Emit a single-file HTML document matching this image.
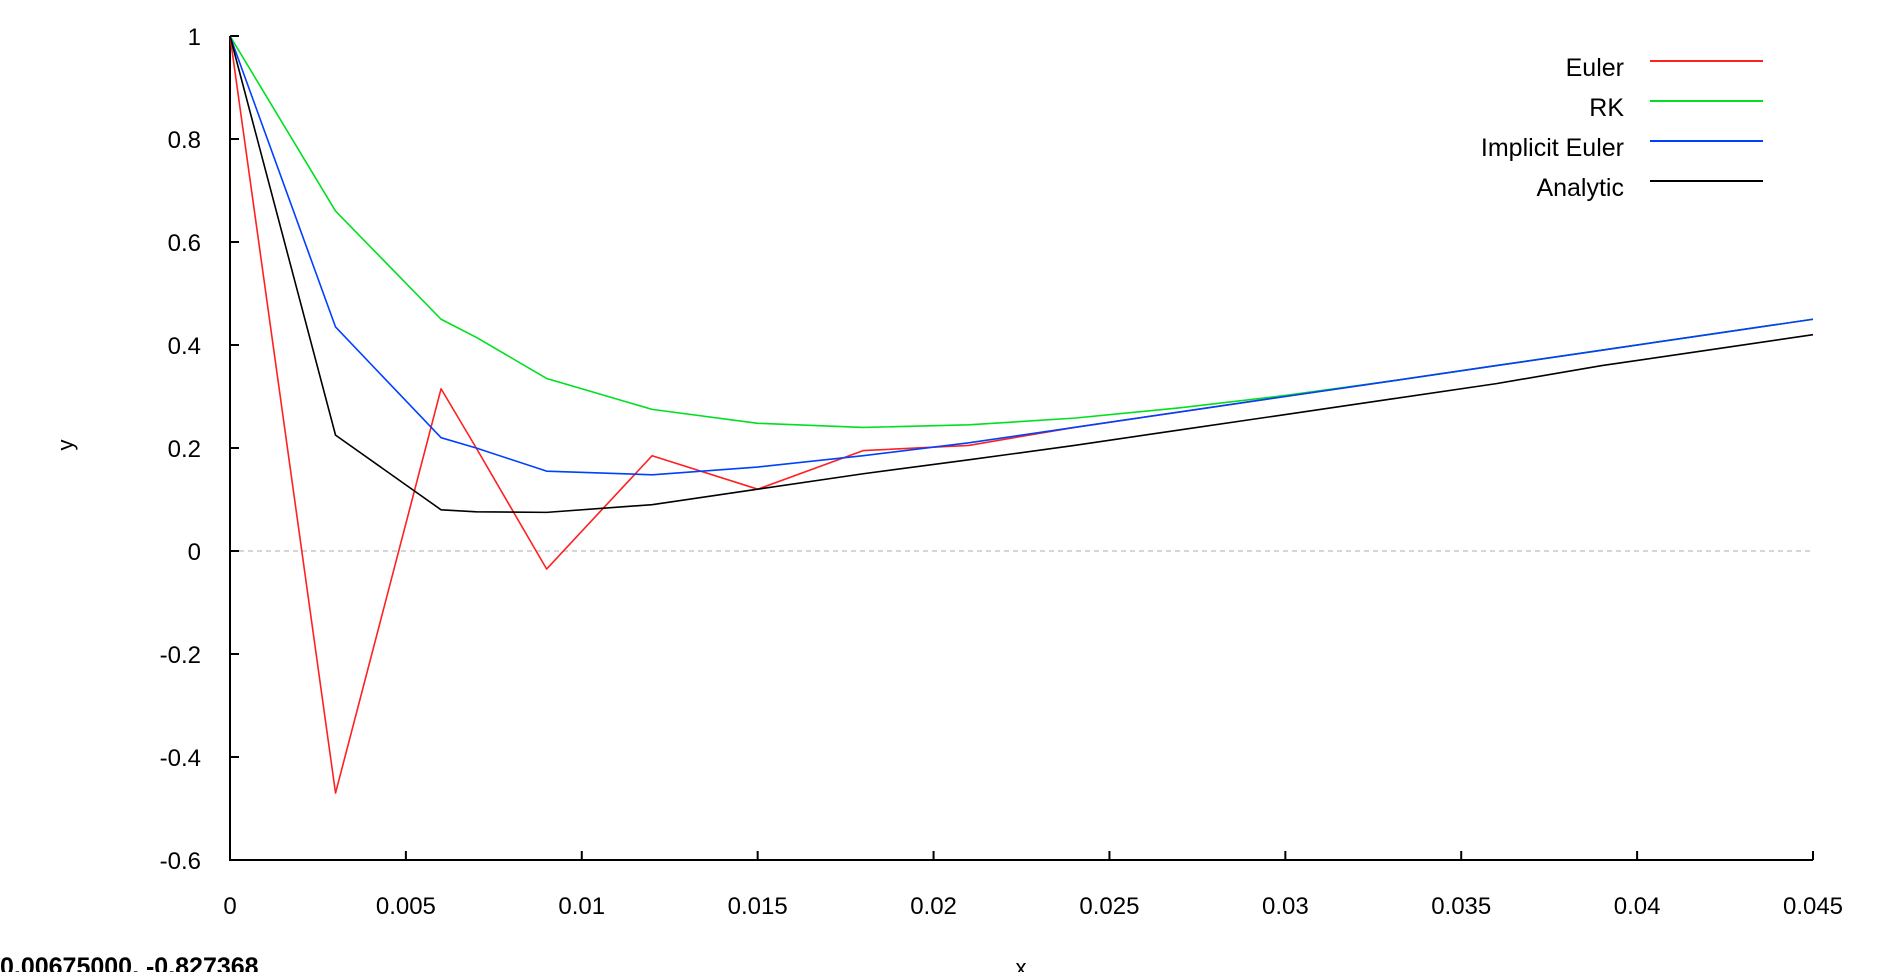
<!DOCTYPE html>
<html><head><meta charset="utf-8"><style>
body{margin:0;background:#fff;}
svg{display:block;font-family:"Liberation Sans",sans-serif;}
</style></head><body>
<svg id="chart" width="1880" height="972"></svg>
<script>
const xs=[0,0.003,0.006,0.007,0.009,0.012,0.015,0.018,0.021,0.024,0.027,0.030,0.033,0.036,0.039,0.042,0.045];
const euler=[1,-0.47,0.315,0.2,-0.035,0.185,0.12,0.195,0.205,0.24,0.27,0.30,0.33,0.36,0.39,0.42,0.45];
const rk=[1,0.66,0.45,0.415,0.335,0.275,0.248,0.24,0.245,0.258,0.278,0.302,0.33,0.36,0.39,0.42,0.45];
const implicitEuler=[1,0.435,0.22,0.2,0.155,0.148,0.163,0.185,0.21,0.24,0.27,0.30,0.33,0.36,0.39,0.42,0.45];
const analytic=[1,0.225,0.08,0.076,0.075,0.09,0.12,0.15,0.177,0.205,0.235,0.265,0.295,0.325,0.36,0.39,0.42];
const xTicks=[0,0.005,0.01,0.015,0.02,0.025,0.03,0.035,0.04,0.045];
const xTickLabels=["0","0.005","0.01","0.015","0.02","0.025","0.03","0.035","0.04","0.045"];
const yTicks=[-0.6,-0.4,-0.2,0,0.2,0.4,0.6,0.8,1];
const yTickLabels=["-0.6","-0.4","-0.2","0","0.2","0.4","0.6","0.8","1"];
const seriesNames=["Euler","RK","Implicit Euler","Analytic"];
const seriesColors=["#ff2020","#00e020","#0040ff","#000000"];

const L=230,R=1813,T=36,B=860;
const X=v=>L+(v-0)/(0.045)*(R-L);
const Y=v=>B-(v+0.6)/1.6*(B-T);
const svg=document.getElementById('chart');
const NS='http://www.w3.org/2000/svg';
function mk(tag,attrs,parent){const e=document.createElementNS(NS,tag);for(const k in attrs)e.setAttribute(k,attrs[k]);(parent||svg).appendChild(e);return e;}

let z=mk('line',{x1:L,x2:R,y1:Y(0),y2:Y(0),stroke:'#c8c8c8','stroke-width':1.5,'stroke-dasharray':'5,4'});



let ax=mk('path',{d:`M${L},${T} V${B} H${R}`,fill:'none',stroke:'#000','stroke-width':2});



yTicks.forEach((t,i)=>{
 let l=mk('line',{x1:L,x2:L+9,y1:Y(t),y2:Y(t),stroke:'#000','stroke-width':2});
 
 
 let tx=mk('text',{x:201,y:Y(t)+9,'text-anchor':'end','font-size':24});
 tx.textContent=yTickLabels[i];
 
 
});
xTicks.forEach((t,i)=>{
 let l=mk('line',{x1:X(t),x2:X(t),y1:B,y2:B-9,stroke:'#000','stroke-width':2});
 
 
 let tx=mk('text',{x:X(t),y:914,'text-anchor':'middle','font-size':24});
 tx.textContent=xTickLabels[i];
 
 
});

[euler,rk,implicitEuler,analytic].forEach((ser,si)=>{
 let p=mk('polyline',{points:ser.map((v,i)=>X(xs[i])+','+Y(v)).join(' '),fill:'none',stroke:seriesColors[si],'stroke-width':1.6,'stroke-linejoin':'round'});
 
 
});
[0,1,2,3].forEach(i=>{
 const y=61+i*40;
 let g=mk('g',{});
 
 
 mk('text',{x:1624,y:y+15,'text-anchor':'end','font-size':25},g).textContent=seriesNames[i];
 mk('line',{x1:1650,x2:1763,y1:y,y2:y,stroke:seriesColors[i],'stroke-width':2},g);
});
let yl=mk('text',{x:0,y:0,'font-size':22,transform:'translate(73,445) rotate(-90)','text-anchor':'middle'});
yl.textContent='y';


let xl=mk('text',{x:1021,y:975,'font-size':22,'text-anchor':'middle'});
xl.textContent='x';


let st=mk('text',{x:0,y:975,'font-size':25,'font-weight':'bold'});
st.textContent='0.00675000, -0.827368';


</script>
</body></html>
